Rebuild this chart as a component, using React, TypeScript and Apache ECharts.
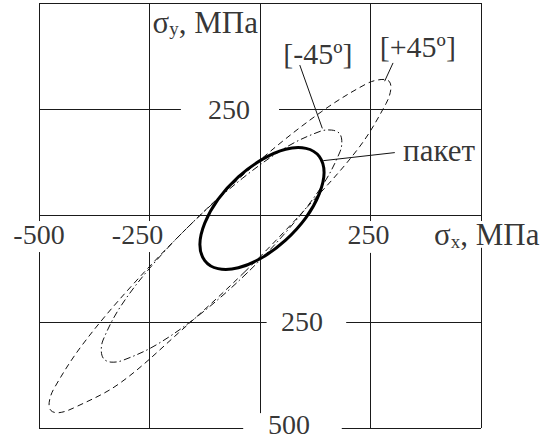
import { useEffect, useRef } from 'react';
import * as echarts from 'echarts';

// ---- data (values in MPa) ----
const gridTicks = [-500, -250, 0, 250, 500];
const xLabelValues = [-500, -250, 250];
const xTickLabels = ['-500', '-250', '250'];
const yLabelValues = [250, -250, -500];
const yTickLabels = ['250', '250', '500'];
const xAxisTitle = '{m|σ}{s|x}{m|, МПа}';
const yAxisTitle = '{m|σ}{s|y}{m|, МПа}';

// failure envelopes
const plus45: number[][] = [
  [-34, -132], [-184, -276], [-319, -396], [-422, -453], [-455, -464], [-473, -459],
  [-477, -440], [-466, -407], [-401, -303], [-289, -164], [-147, -11], [3, 133],
  [140, 245], [241, 310], [274, 320], [292, 316], [296, 297], [285, 263], [224, 160],
  [108, 21], [-34, -132],
];
const minus45: number[][] = [
  [-29, -135], [-135, -232], [-234, -304], [-311, -341], [-337, -345], [-353, -338],
  [-359, -320], [-355, -293], [-316, -215], [-243, -116], [-145, -9], [-39, 88],
  [60, 161], [136, 198], [162, 201], [179, 194], [185, 177], [181, 150], [142, 72],
  [68, -28], [-29, -135],
];
const laminate: number[][] = [
  [5, -99], [-49, -123], [-95, -125], [-125, -106], [-136, -68], [-125, -18],
  [-95, 38], [-49, 91], [5, 132], [58, 156], [104, 158], [134, 139], [145, 101],
  [134, 51], [104, -5], [58, -58], [5, -99],
];
const curveNames = ['[+45º]', '[-45º]', 'пакет'];

// ---- layout (positions in axis units / pixels, not data) ----
const FONT = 'Liberation Serif, Times New Roman, serif';
const bandTop = -13;
const bandBottom: Record<number, number> = { [-500]: -86, [-250]: -86, 250: -88, 500: -76 };
const centerBottom = -465;
const hGaps: Record<number, [number, number] | null> = {
  500: null, 250: [-179, 43], 0: null, [-250]: [15, 195], [-500]: [-38, 185],
};
const xLabelOffsets = [0, -12, -2];
const yLabelLayout = [
  { align: 'right', offset: [-10, 0] },
  { align: 'left', offset: [21, 0] },
  { align: 'left', offset: [8, -4] },
];
const nameAnchors = [[357, 397], [131, 381], [405, 154]];
const nameSizes = [30, 30, 31];
const leaders = [
  [[301, 359], [282, 316]],
  [[90, 354], [141, 205]],
  [[305, 148], [143, 129]],
];

function buildSegments(): number[][][] {
  const segs: number[][][] = [];
  gridTicks.forEach((x) => {
    if (x === 0) {
      segs.push([[0, 500], [0, centerBottom]]);
    } else {
      segs.push([[x, 500], [x, bandTop]]);
      segs.push([[x, bandBottom[x]], [x, -500]]);
    }
  });
  gridTicks.forEach((y) => {
    const g = hGaps[y];
    if (!g) segs.push([[-500, y], [500, y]]);
    else {
      segs.push([[-500, y], [g[0], y]]);
      segs.push([[g[1], y], [500, y]]);
    }
  });
  return segs;
}

function envelope(name: string, pts: number[][], stroke: string, width: number, dash: number[] | null, z: number) {
  return {
    type: 'custom',
    name,
    data: pts,
    encode: { x: 0, y: 1 },
    z,
    silent: true,
    clip: false,
    renderItem: (params: any, api: any) => {
      if (params.dataIndex !== 0) return null;
      const points = pts.slice(0, -1).map((p) => api.coord(p));
      return {
        type: 'polygon',
        shape: { points, smooth: 0.35 },
        style: { fill: 'none', stroke, lineWidth: width, lineDash: dash || undefined },
      };
    },
  };
}

export default function App() {
  const ref = useRef<HTMLDivElement>(null);
  useEffect(() => {
    const chart = echarts.init(ref.current!, null, { renderer: 'svg' });
    const rich = {
      m: { fontFamily: FONT, fontSize: 31, color: '#000', lineHeight: 32 },
      s: { fontFamily: FONT, fontSize: 19, color: '#000', lineHeight: 19, verticalAlign: 'bottom' },
    };
    const labels: any[] = [];
    xLabelValues.forEach((v, i) => {
      labels.push({
        value: [v, 0],
        label: { formatter: xTickLabels[i], align: 'center', verticalAlign: 'middle', offset: [xLabelOffsets[i], 19], fontSize: 28 },
      });
    });
    yLabelValues.forEach((v, i) => {
      labels.push({
        value: [0, v],
        label: { formatter: yTickLabels[i], align: yLabelLayout[i].align, verticalAlign: 'middle', offset: yLabelLayout[i].offset, fontSize: 28 },
      });
    });
    labels.push({
      value: [0, 500],
      label: { formatter: yAxisTitle, rich, align: 'right', verticalAlign: 'middle', offset: [-2, 19] },
    });
    labels.push({
      value: [500, 0],
      label: { formatter: xAxisTitle, rich, align: 'left', verticalAlign: 'middle', offset: [-47, 19] },
    });
    curveNames.forEach((n, i) => {
      labels.push({
        value: nameAnchors[i],
        label: { formatter: n, align: 'center', verticalAlign: 'middle', fontSize: nameSizes[i] },
      });
    });

    chart.setOption({
      animation: false,
      backgroundColor: '#fff',
      textStyle: { fontFamily: FONT },
      grid: { left: 39, top: 3, width: 442, height: 425, show: false },
      xAxis: { type: 'value', min: -500, max: 500, show: false },
      yAxis: { type: 'value', min: -500, max: 500, show: false },
      series: [
        {
          type: 'lines', coordinateSystem: 'cartesian2d', clip: false, silent: true, z: 1,
          lineStyle: { color: '#1a1a1a', width: 1, opacity: 1, curveness: 0 },
          data: buildSegments().map((s) => ({ coords: s })),
        },
        {
          type: 'lines', coordinateSystem: 'cartesian2d', clip: false, silent: true, z: 4,
          lineStyle: { color: '#111', width: 1, opacity: 1, curveness: 0 },
          data: leaders.map((s) => ({ coords: s })),
        },
        envelope(curveNames[0], plus45, '#111', 1, [6, 4], 2),
        envelope(curveNames[1], minus45, '#111', 1, [7, 3, 1.5, 3], 2),
        envelope(curveNames[2], laminate, '#000', 3, null, 3),
        {
          type: 'scatter', symbolSize: 1, itemStyle: { color: 'rgba(0,0,0,0)' }, z: 5, silent: true,
          label: { show: true, position: 'inside', color: '#000', fontFamily: FONT, fontSize: 28 },
          data: labels,
        },
      ],
    });
    return () => chart.dispose();
  }, []);
  return (
    <div
      ref={ref}
      style={{ position: 'fixed', left: 0, top: 0, width: 547, height: 443, background: '#fff' }}
    />
  );
}
